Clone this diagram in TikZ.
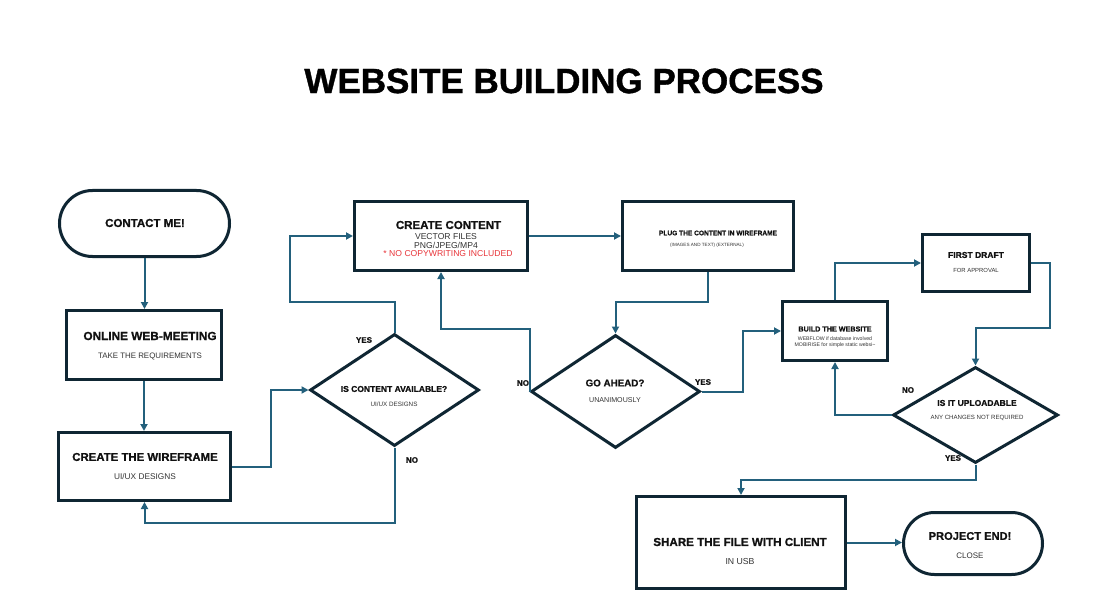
\documentclass[tikz,border=0pt]{standalone}
\usepackage{fontspec}
\setmainfont{Liberation Sans}
\newfontfamily\heavyfont{Liberation Sans Bold}[FakeBold=1.1]
\newfontfamily\semiheavy{Liberation Sans Bold}[FakeBold=0.9]
\usetikzlibrary{arrows.meta,shapes.geometric,calc}
\definecolor{edgec}{HTML}{0F2633}
\definecolor{connc}{HTML}{23607C}
\definecolor{titlec}{HTML}{111111}
\definecolor{subc}{HTML}{333333}
\definecolor{redc}{HTML}{E8353A}
\tikzset{
  boxnode/.style={draw=edgec, line width=3pt, fill=white, rectangle, inner sep=0pt},
  stadium/.style={draw=edgec, line width=3pt, fill=white, rectangle, rounded corners=#1, inner sep=0pt},
  decision/.style={draw=edgec, line width=3pt, fill=white, diamond, inner sep=0pt},
  conn/.style={draw=connc, line width=2pt, -{Triangle[length=7pt,width=7pt]}},
  tl/.style={inner sep=0pt, text=titlec, font=\fontsize{#1}{#1}\selectfont\semiheavy},
  sb/.style={inner sep=0pt, text=subc, font=\fontsize{#1}{#1}\selectfont},
  yn/.style={inner sep=0pt, text=titlec, font=\fontsize{8}{8}\selectfont\semiheavy},
}
\begin{document}
\begin{tikzpicture}[x=1pt,y=-1pt]
\fill[white] (0,0) rectangle (1096,615);
\useasboundingbox (0,0) rectangle (1096,615);

% title
\node[inner sep=0pt, text=black, font=\fontsize{35}{35}\selectfont\heavyfont] (title) at (564,81) {WEBSITE BUILDING PROCESS};

% shapes
\node[stadium=33, minimum width=170pt, minimum height=66pt] (contact) at (144.5,223.5) {};
\node[boxnode, minimum width=155pt, minimum height=69pt] (online) at (144,345) {};
\node[boxnode, minimum width=172pt, minimum height=68pt] (wire) at (144.5,466.5) {};
\node[decision, minimum width=169pt, minimum height=112pt] (d1) at (394.5,390) {};
\node[boxnode, minimum width=173pt, minimum height=69pt] (cc) at (441,236) {};
\node[boxnode, minimum width=171pt, minimum height=69pt] (plug) at (708,236) {};
\node[decision, minimum width=169pt, minimum height=113pt] (d2) at (615.5,391.5) {};
\node[boxnode, minimum width=105pt, minimum height=59pt] (build) at (835,331) {};
\node[boxnode, minimum width=107pt, minimum height=57pt] (fd) at (976,263) {};
\node[decision, minimum width=165pt, minimum height=96pt] (d3) at (975.5,415) {};
\node[boxnode, minimum width=209pt, minimum height=92pt] (share) at (741,542.5) {};
\node[stadium=31, minimum width=139pt, minimum height=62pt] (pe) at (973,543.5) {};

% texts
\node[tl=11.5] (t1) at (145,223) {CONTACT ME!};
\node[tl=11.8] (t2) at (150,336) {ONLINE WEB-MEETING};
\node[sb=7.9] (t2s) at (150,356) {TAKE THE REQUIREMENTS};
\node[tl=11.4] (t3) at (145,457) {CREATE THE WIREFRAME};
\node[sb=8.3] (t3s) at (145,477) {UI/UX DESIGNS};
\node[tl=8.5] (t4) at (394,389) {IS CONTENT AVAILABLE?};
\node[sb=6.3] (t4s) at (394,404) {UI/UX DESIGNS};
\node[tl=11.5] (t5) at (448.5,225) {CREATE CONTENT};
\node[sb=8.6] (t5a) at (446,237) {VECTOR FILES};
\node[sb=8.6] (t5b) at (446,245) {PNG/JPEG/MP4};
\node[sb=8.6, text=redc] (t5c) at (448,254) {* NO COPYWRITING INCLUDED};
\node[tl=6.6] (t6) at (718,233) {PLUG THE CONTENT IN WIREFRAME};
\node[sb=4.6] (t6s) at (707,245) {(IMAGES AND TEXT) (EXTERNAL)};
\node[tl=9.8] (t7) at (615,383) {GO AHEAD?};
\node[sb=7.1] (t7s) at (615,400) {UNANIMOUSLY};
\node[tl=7.2] (t8) at (835,329) {BUILD THE WEBSITE};
\node[sb=5.2, align=center, font=\fontsize{5.2}{6.5}\selectfont] (t8s) at (835,342) {WEBFLOW if database involved\\MOBIRISE for simple static websi\textasciitilde};
\node[tl=8.5] (t9) at (976,255) {FIRST DRAFT};
\node[sb=5.9] (t9s) at (976,270) {FOR APPROVAL};
\node[tl=8.5] (t10) at (977,403) {IS IT UPLOADABLE};
\node[sb=6.1] (t10s) at (977,418) {ANY CHANGES NOT REQUIRED};
\node[tl=11.6] (t11) at (740,542) {SHARE THE FILE WITH CLIENT};
\node[sb=8.7] (t11s) at (740,562) {IN USB};
\node[tl=11.1] (t12) at (970,536) {PROJECT END!};
\node[sb=8] (t12s) at (970,556) {CLOSE};

% yes/no labels
\node[yn] (l1) at (364,340) {YES};
\node[yn] (l2) at (412,460) {NO};
\node[yn] (l3) at (523,383) {NO};
\node[yn] (l4) at (703,382) {YES};
\node[yn] (l5) at (908,390) {NO};
\node[yn] (l6) at (953,458) {YES};

% connectors
\draw[conn] (contact.south) -- (contact.south |- online.north);
\draw[conn] (online.south) -- (online.south |- wire.north);
\draw[conn] (wire.east) -- ++(39,0) |- (d1.west);
\draw[conn] (d1.north) |- (290,302) |- (cc.west);
\draw[conn] (d1.south) -- ++(0,75) -| (wire.south);
\draw[conn] (cc.east) -- (plug.west);
\draw[conn] (plug.south) -- ++(0,30) -| (d2.north);
\draw[conn] (d2.west) -- ++(0,-63) -| (cc.south);
\draw[conn] (d2.east) -- ++(41,0) |- (build.west);
\draw[conn] (build.north) |- (fd.west);
\draw[conn] (fd.east) -- ++(19,0) -- ++(0,65) -| (d3.north);
\draw[conn] (d3.west) -| (build.south);
\draw[conn] (d3.south) -- ++(0,15) -| (share.north);
\draw[conn] (share.east) -- (share.east -| pe.west);
\end{tikzpicture}
\end{document}
